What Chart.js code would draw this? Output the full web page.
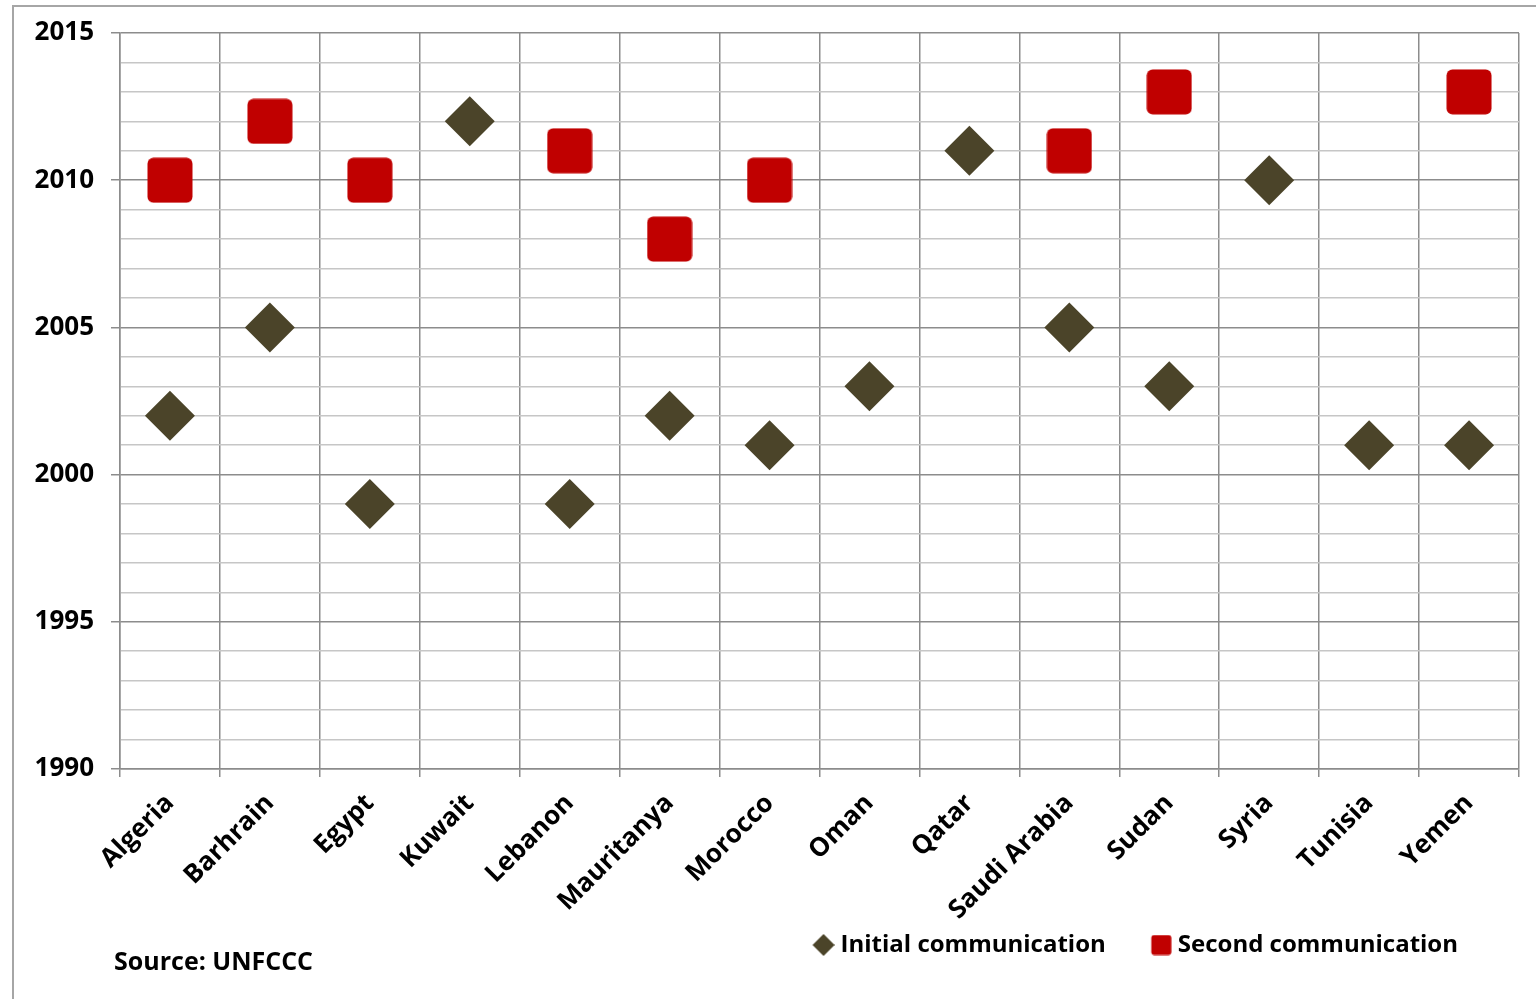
<!DOCTYPE html>
<html><head><meta charset="utf-8">
<script src="https://cdn.jsdelivr.net/npm/chart.js@4"></script>
<style>
html,body{margin:0;padding:0;background:#fff;}
#wrap{position:relative;width:1536px;height:999px;overflow:hidden;background:#fff;}
#frame{position:absolute;left:12px;top:5px;width:1600px;height:1100px;border:2px solid #a6a6a6;box-sizing:border-box;}
#c{position:absolute;left:0;top:0;}
#src{position:absolute;left:114px;top:944px;font:bold 25px "Open Sans", sans-serif;color:#000;line-height:32px;white-space:nowrap;}
</style></head>
<body><div id="wrap"><div id="frame"></div><canvas id="c" width="1536" height="999"></canvas><div id="src">Source: UNFCCC</div></div>
<script>
const countries = ['Algeria','Barhrain','Egypt','Kuwait','Lebanon','Mauritanya','Morocco','Oman','Qatar','Saudi Arabia','Sudan','Syria','Tunisia','Yemen'];
const initialYears = [2002,2005,1999,2012,1999,2002,2001,2003,2011,2005,2003,2010,2001,2001];
const secondYears = [2010,2012,2010,null,2011,2008,2010,null,null,2011,2013,null,null,2013];
const yTickLabels = [1990,1995,2000,2005,2010,2015];
const seriesNames = ['Initial communication','Second communication'];

const OLIVE = '#4B4429';
const RED = '#C00000';
const FONT = '"Open Sans", Lato, sans-serif';

function roundedSquare(size, r, color){
  const c = document.createElement('canvas');
  c.width = size; c.height = size;
  const g = c.getContext('2d');
  g.fillStyle = color;
  g.beginPath(); g.roundRect(0.5,0.5,size-1,size-1,r); g.fill();
  return c;
}
// legend markers: drawn at the right end of a wider canvas so the marker sits next to its text
function legendMarker(totalW, size, color, kind){
  const c = document.createElement('canvas');
  c.width = totalW; c.height = size;
  const g = c.getContext('2d');
  g.fillStyle = color;
  const x0 = totalW - size;
  g.beginPath();
  if (kind === 'diamond') {
    const h = size/2;
    g.moveTo(x0+h,0); g.lineTo(x0+size,h); g.lineTo(x0+h,size); g.lineTo(x0,h); g.closePath();
  } else {
    g.roundRect(x0+0.5,0.5,size-1,size-1,3);
  }
  g.fill();
  return c;
}
const squareMark = roundedSquare(46, 6, RED);
const legendDiamond = legendMarker(58, 22, OLIVE, 'diamond');
const legendSquare = legendMarker(58, 21, RED, 'square');

const legendNudge = {
  id: 'legendNudge',
  afterLayout(chart) { if (chart.legend) chart.legend.right -= 47; }
};

new Chart(document.getElementById('c'), {
  type: 'line',
  data: {
    labels: countries,
    datasets: [
      { label: seriesNames[0], data: initialYears, showLine: false, pointStyle: 'rectRot', pointRadius: 25, pointHoverRadius: 25,
        backgroundColor: OLIVE, borderColor: OLIVE, pointBorderWidth: 0 },
      { label: seriesNames[1], data: secondYears, showLine: false, pointStyle: squareMark, pointRadius: 23, pointHoverRadius: 23,
        backgroundColor: RED, borderColor: RED, pointBorderWidth: 0 }
    ]
  },
  plugins: [legendNudge],
  options: {
    responsive: false,
    animation: false,
    layout: { autoPadding: false, padding: { left: 0, right: 17, top: 33, bottom: 32 } },
    plugins: {
      tooltip: { enabled: false },
      legend: {
        position: 'bottom', align: 'end',
        labels: {
          usePointStyle: true, pointStyleWidth: 46, padding: 14,
          color: '#000', font: { family: FONT, size: 24, weight: 'bold' },
          generateLabels: (chart) => {
            const items = Chart.defaults.plugins.legend.labels.generateLabels(chart);
            items[0].pointStyle = legendDiamond;
            items[1].pointStyle = legendSquare;
            return items;
          }
        }
      }
    },
    scales: {
      x: {
        type: 'category', offset: true,
        grid: { offset: true, color: '#8c8c8c', lineWidth: 1.5, tickLength: 8, tickColor: '#8c8c8c' },
        border: { color: '#8c8c8c', width: 1.5 },
        ticks: { maxRotation: 45, minRotation: 45, autoSkip: false, padding: 11, color: '#000',
          font: { family: FONT, size: 26, weight: 'bold' } },
        afterFit: (s) => { s.height = 150; s.paddingRight = 0; s.paddingLeft = 0; }
      },
      y: {
        min: 1990, max: 2015,
        grid: {
          color: (ctx) => (ctx.tick && ctx.tick.value % 5 === 0) ? '#8c8c8c' : '#c6c6c6',
          tickColor: (ctx) => (ctx.tick && ctx.tick.value % 5 === 0) ? '#8c8c8c' : 'rgba(0,0,0,0)',
          lineWidth: 1.5, tickLength: 9
        },
        border: { color: '#8c8c8c', width: 1.5 },
        ticks: { stepSize: 1, autoSkip: false, padding: 17, color: '#000',
          font: { family: FONT, size: 26, weight: 'bold' },
          callback: (v) => yTickLabels.includes(v) ? String(v) : '' },
        afterFit: (s) => { s.width = 120; }
      }
    }
  }
});
</script>
</body></html>
